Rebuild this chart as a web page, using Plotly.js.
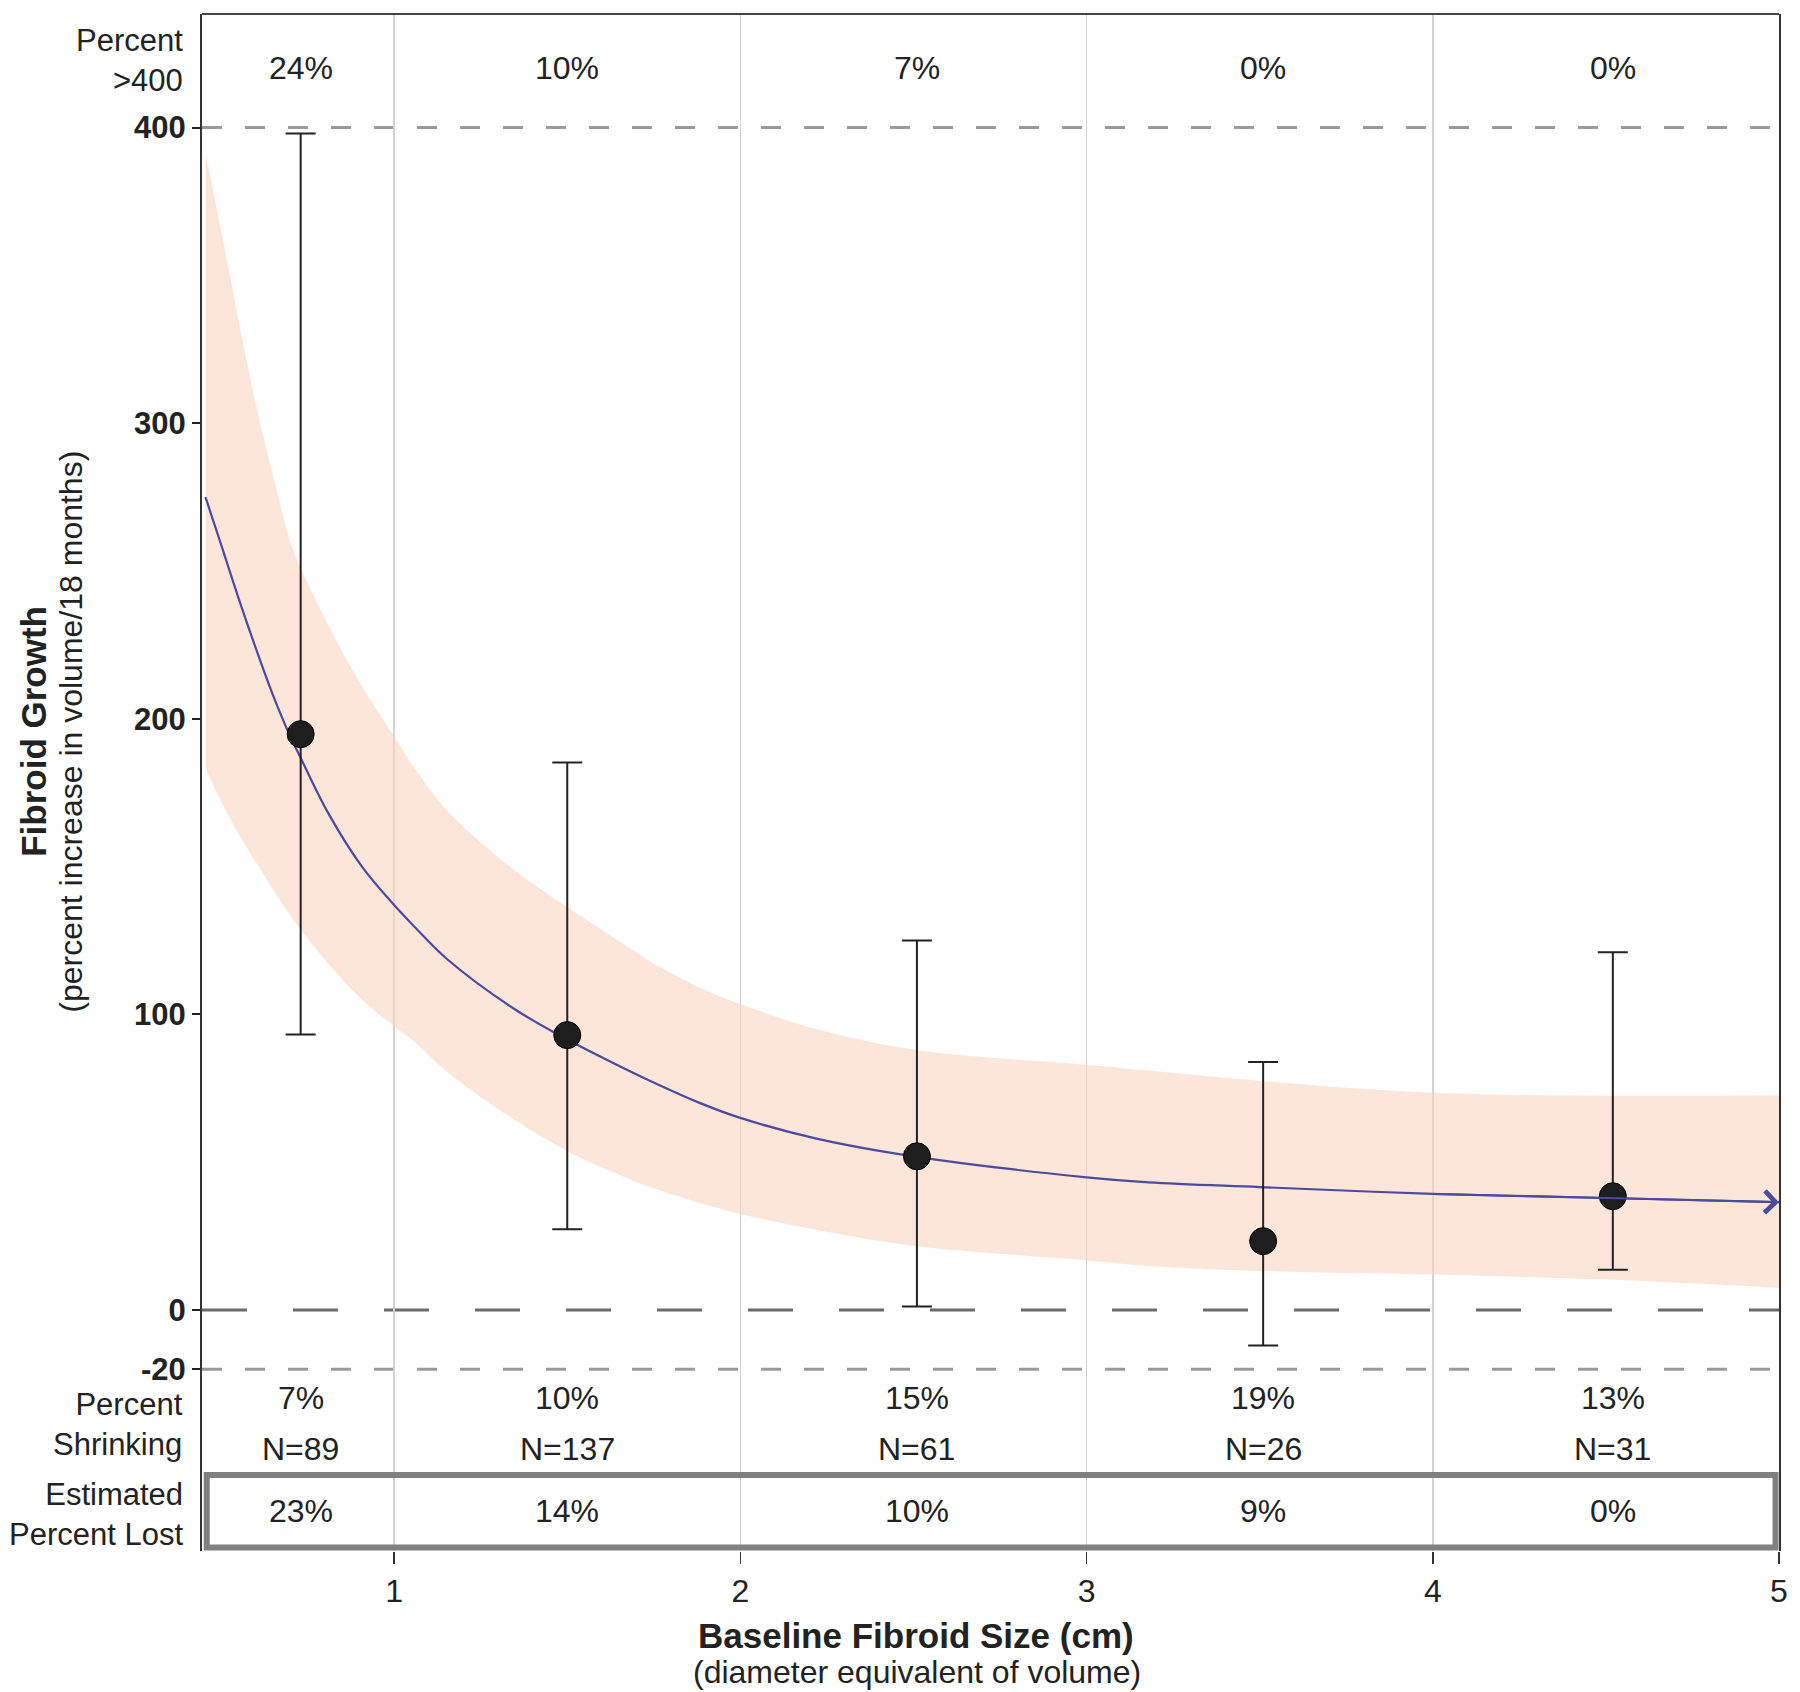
<!DOCTYPE html>
<html>
<head>
<meta charset="utf-8">
<script src="https://cdn.plot.ly/plotly-3.0.1.min.js"></script>
<style>html,body{margin:0;padding:0;background:#fff;}#chart{width:1800px;height:1692px;}</style>
</head>
<body>
<div id="chart"></div>
<script>
// ---- Data ----
// Observed group means with error bars
const pointX = [0.73, 1.50, 2.51, 3.51, 4.52];
const pointY = [194.8, 93.0, 52.0, 23.3, 38.5];
const errUpper = [398, 185.2, 125, 83.9, 121];
const errLower = [93.2, 27.3, 1.2, -12, 13.6];

// Fitted curve
const curveX = [0.455, 0.50, 0.55, 0.60, 0.65, 0.70, 0.727, 0.81, 0.907, 1.00, 1.06, 1.15, 1.345, 1.50, 1.634, 1.74, 1.884, 2.00, 2.22, 2.50, 3.00, 3.18, 3.50, 4.00, 4.50, 5.00];
const curveY = [275, 259, 241, 224, 208, 194, 187.5, 168, 150, 137, 129.5, 119, 102, 91.5, 83.5, 77.5, 70, 65, 58, 52, 44.9, 43.2, 41.6, 39.3, 37.9, 36.5];

// Confidence band edges
const upperX = [0.456, 0.509, 0.557, 0.605, 0.653, 0.70, 0.73, 0.80, 0.84, 0.907, 1.00, 1.061, 1.153, 1.345, 1.504, 1.634, 1.74, 1.884, 2.00, 2.221, 2.51, 3.00, 3.183, 3.50, 4.00, 4.50, 5.00];
const upperY = [391, 360, 331, 304, 281, 260, 251, 234, 225, 211, 194, 183, 169, 149, 136, 126, 118, 109, 103.5, 95, 88, 83, 81, 77.5, 73.5, 72.5, 72.7];
const lowerX = [0.456, 0.522, 0.619, 0.715, 0.811, 0.907, 1.00, 1.061, 1.153, 1.345, 1.504, 1.634, 1.74, 1.884, 2.00, 2.221, 2.51, 3.00, 3.183, 3.50, 4.00, 4.50, 5.00];
const lowerY = [183, 167, 148, 131, 117, 105, 96, 90.5, 80.5, 64.5, 53.5, 46.5, 41.5, 36.2, 32.5, 27.1, 21.6, 16.8, 14.9, 13.2, 12, 10.3, 7.5];

// Table rows
const pctOver400 = ['24%', '10%', '7%', '0%', '0%'];
const pctShrinking = ['7%', '10%', '15%', '19%', '13%'];
const nCounts = [89, 137, 61, 26, 31];
const pctLost = ['23%', '14%', '10%', '9%', '0%'];

// Axis ticks
const xTicks = [1, 2, 3, 4, 5];
const yTicks = [-20, 0, 100, 200, 300, 400];
const refLines = [400, 0, -20];

// ---- Styling ----
const FONT = 'Liberation Sans, Arial, Helvetica, sans-serif';
const TXT = '#222222';
const BAND = 'rgba(250,212,192,0.58)';

const lowerTrace = {
  x: lowerX, y: lowerY, type: 'scatter', mode: 'lines',
  line: {width: 0, color: 'rgba(0,0,0,0)', shape: 'spline', smoothing: 1},
  hoverinfo: 'skip'
};
const upperTrace = {
  x: upperX, y: upperY, type: 'scatter', mode: 'lines', fill: 'tonexty', fillcolor: BAND,
  line: {width: 0, color: 'rgba(0,0,0,0)', shape: 'spline', smoothing: 1},
  hoverinfo: 'skip'
};
const curveTrace = {
  x: curveX, y: curveY, type: 'scatter', mode: 'lines',
  line: {color: '#4b4a9e', width: 2.2, shape: 'spline', smoothing: 1},
  hoverinfo: 'skip'
};
const pointTrace = {
  x: pointX, y: pointY, type: 'scatter', mode: 'markers',
  marker: {size: 27, color: '#1e1e1e', line: {color: '#000', width: 1}},
  error_y: {
    type: 'data', symmetric: false,
    array: errUpper.map((u, i) => u - pointY[i]),
    arrayminus: pointY.map((v, i) => v - errLower[i]),
    color: '#222', thickness: 2, width: 15
  }
};

const dashStyles = {'400': {color: '#9a9a9a', dash: '20px,23px', width: 3},
                    '0': {color: '#6a6a6a', dash: '45px,46px', width: 3},
                    '-20': {color: '#9a9a9a', dash: '20px,23px', width: 3}};
const shapes = refLines.map(v => ({
  type: 'line', xref: 'paper', yref: 'y', x0: 0, x1: 1, y0: v, y1: v,
  layer: 'between', line: dashStyles[String(v)]
}));
// top frame line
shapes.push({type: 'line', xref: 'paper', yref: 'paper', x0: 0, x1: 1, y0: 1, y1: 1,
  line: {color: '#444', width: 2}, layer: 'above'});
// Estimated Percent Lost box
shapes.push({type: 'rect', xref: 'paper', yref: 'y', x0: 0.003, x1: 0.9978, y0: -55.8, y1: -80.3,
  line: {color: '#808080', width: 6}, fillcolor: 'rgba(0,0,0,0)', layer: 'above'});

const annotations = [];
function addRow(texts, yv) {
  texts.forEach((t, i) => annotations.push({
    x: pointX[i], y: yv, xref: 'x', yref: 'y', text: String(t), showarrow: false,
    xanchor: 'center', yanchor: 'middle', font: {family: FONT, size: 32, color: TXT}
  }));
}
addRow(pctOver400, 420.2);
addRow(pctShrinking, -29.8);
addRow(nCounts.map(n => 'N=' + n), -47.0);
addRow(pctLost, -68.0);

function sideLabel(t, yv) {
  annotations.push({x: 0, y: yv, xref: 'paper', yref: 'y', xshift: -17, text: t, showarrow: false,
    xanchor: 'right', yanchor: 'middle', align: 'right',
    font: {family: FONT, size: 31, color: TXT}});
}
sideLabel('Percent<br>&gt;400', 422.6);
sideLabel('Percent<br>Shrinking', -38.8);
sideLabel('Estimated<br>Percent Lost', -69.2);

// axis titles
annotations.push({x: -0.1065, y: 0.533, xref: 'paper', yref: 'paper', textangle: -90,
  text: '<b>Fibroid Growth</b>', showarrow: false, xanchor: 'center', yanchor: 'middle',
  font: {family: FONT, size: 35, color: TXT}});
annotations.push({x: -0.0831, y: 0.533, xref: 'paper', yref: 'paper', textangle: -90,
  text: '(percent increase in volume/18 months)', showarrow: false, xanchor: 'center', yanchor: 'middle',
  font: {family: FONT, size: 32, color: TXT}});
annotations.push({x: 0.4528, y: -0.0547, xref: 'paper', yref: 'paper',
  text: '<b>Baseline Fibroid Size (cm)</b>', showarrow: false, xanchor: 'center', yanchor: 'middle',
  font: {family: FONT, size: 35, color: TXT}});
annotations.push({x: 0.4534, y: -0.0787, xref: 'paper', yref: 'paper',
  text: '(diameter equivalent of volume)', showarrow: false, xanchor: 'center', yanchor: 'middle',
  font: {family: FONT, size: 32, color: TXT}});

// arrow head at end of the fitted curve
const nC = curveX.length;
annotations.push({x: curveX[nC - 1], y: curveY[nC - 1], ax: curveX[nC - 3], ay: curveY[nC - 3],
  xref: 'x', yref: 'y', axref: 'x', ayref: 'y', text: '', showarrow: true,
  arrowhead: 4, arrowsize: 2.1, arrowwidth: 2, arrowcolor: '#4b4a9e', standoff: 0});

const layout = {
  width: 1800, height: 1692,
  margin: {l: 202, r: 21, t: 14, b: 141, pad: 0},
  paper_bgcolor: '#fff', plot_bgcolor: '#fff',
  showlegend: false,
  font: {family: FONT, color: TXT},
  xaxis: {
    range: [0.445, 5], tickvals: xTicks, ticktext: xTicks.map(String),
    ticks: 'outside', ticklen: 12, tickwidth: 1.5, tickcolor: '#333',
    showgrid: true, gridcolor: '#d2d2d2', gridwidth: 1.5,
    zeroline: false, showline: false,
    tickfont: {family: FONT, size: 32, color: TXT}
  },
  yaxis: {
    range: [-81.5, 438.4], tickvals: yTicks, ticktext: yTicks.map(String),
    ticks: 'outside', ticklen: 8, tickwidth: 2, tickcolor: '#222',
    showgrid: false, zeroline: false,
    showline: true, mirror: true, linecolor: '#333', linewidth: 2,
    tickfont: {family: FONT, size: 31, color: TXT, weight: 'bold'}
  },
  shapes: shapes,
  annotations: annotations
};

Plotly.newPlot('chart', [lowerTrace, upperTrace, curveTrace, pointTrace], layout, {displayModeBar: false, staticPlot: true});
</script>
</body>
</html>
